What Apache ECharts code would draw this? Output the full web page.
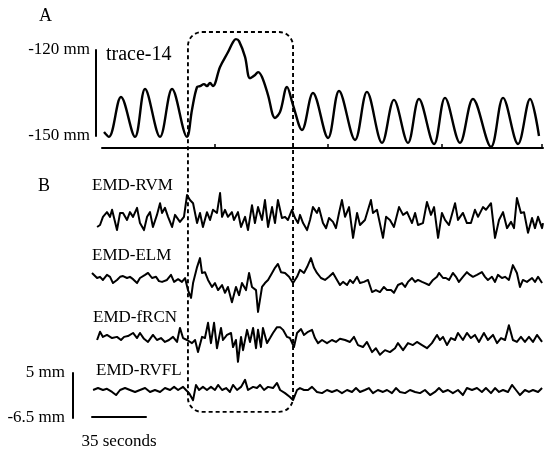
<!DOCTYPE html>
<html><head><meta charset="utf-8">
<script src="https://cdn.jsdelivr.net/npm/echarts@6/dist/echarts.min.js"></script>
<style>html,body{margin:0;padding:0;background:#fff}#c{width:550px;height:454px}</style>
</head><body><div id="c"></div>
<script>
// Panel A: trace-14 (time in seconds, value in mm)
const traceTime = [1.3,4.5,12.3,21.4,27.9,37.6,45.4,55.1,58.3,61.6,63.5,66.1,68.0,70.0,71.9,76.5,81.7,84.9,86.8,88.8,92.7,95.9,99.2,101.1,103.7,107.6,112.1,115.4,119.9,123.8,129.6,136.7,146.5,153.6,164.0,171.7,181.5,189.2,198.3,205.4,215.2,222.3,232.0,240.4,252.1,259.9,269.6,277.4,283.2];
const traceValue = [-148.6,-150.3,-136.4,-150.3,-133.6,-150.3,-133.6,-150.3,-140.9,-132.9,-132.6,-131.9,-132.6,-131.5,-132.6,-125.9,-120.7,-117.2,-116.2,-116.9,-122.4,-129.8,-128.7,-127.7,-129.4,-135.7,-143.7,-141.6,-132.9,-139.2,-147.9,-135.0,-150.7,-134.3,-151.4,-134.6,-152.4,-137.4,-152.4,-137.1,-152.8,-136.7,-152.4,-137.1,-153.8,-136.7,-152.8,-137.1,-150.0];

// Panel B: EMD components (time in seconds, value in mm)
const rvmTime = [-3.2,-1.3,0.6,3.2,5.2,6.5,9.7,11.7,13.6,16.2,18.1,20.1,22.7,24.6,27.2,29.2,31.1,33.0,35.6,37.6,38.9,40.8,42.8,45.4,47.3,50.5,53.1,55.1,57.0,59.0,61.6,63.5,65.4,68.0,70.0,71.9,74.5,76.5,77.8,79.7,81.6,84.2,85.5,88.1,90.1,92.7,94.6,97.2,99.1,101.1,103.7,105.6,107.6,110.2,112.1,114.0,116.6,118.6,120.5,123.1,125.1,127.0,128.3,130.3,132.9,134.8,136.7,139.3,140.6,143.2,145.2,147.1,149.7,151.6,153.6,155.5,157.5,160.1,162.7,165.3,167.2,170.4,174.3,175.6,178.2,182.1,184.1,186.6,189.2,192.5,195.1,197.7,200.9,202.9,204.8,208.0,210.6,213.2,215.2,217.8,220.3,222.3,224.9,228.8,230.7,233.9,236.5,239.1,241.7,243.7,246.9,248.8,252.1,254.7,257.3,259.9,262.5,265.1,267.0,268.9,271.5,273.5,276.1,278.7,280.6,282.6,285.2,285.8];
const rvmValue = [-2.3,-1.8,0.3,1.5,0.3,2.1,-3.1,1.3,1.3,-0.5,1.5,0.3,2.6,-1.3,-3.1,0.3,1.5,-2.3,0.8,3.8,1.3,2.6,0.3,-2.3,0.8,-1.0,0.3,5.9,4.6,3.8,-1.3,1.3,-2.3,1.5,-0.5,2.1,1.3,6.4,0.3,2.1,0.3,1.5,-0.5,1.5,-2.3,0.3,-3.1,3.3,-1.3,2.8,-0.5,4.6,-2.3,2.8,-1.3,4.6,0,0.3,-0.5,2.1,0,-1.3,0.8,-1.3,-3.1,-0.5,2.8,1.3,2.6,-1.3,-2.6,0,-1.0,-2.6,1.3,4.6,0.3,2.8,-5.1,1.3,-1.8,-0.5,4.6,1.3,2.1,-5.1,0.3,-0.5,-2.3,2.8,0.8,1.5,-1.3,1.3,-1.8,-1.3,4.1,0.8,2.8,-5.1,1.3,-0.5,-1.8,3.8,-0.5,1.3,-1.3,-1.3,2.1,0.3,2.8,2.1,3.8,-5.1,-0.5,1.5,-2.6,-1.0,-2.6,5.1,1.3,1.5,-3.8,0,-2.6,0.3,-2.6,-1.3];

const elmTime = [-6.5,-3.2,-1.3,0.6,3.2,5.2,7.1,9.7,11.7,13.6,16.2,18.1,20.1,22.7,24.6,27.9,29.8,32.4,35.0,36.9,38.9,42.1,44.7,46.7,49.3,51.8,53.8,55.7,57.7,59.0,61.6,63.5,64.8,66.7,68.7,71.3,73.2,75.2,77.8,79.7,81.6,84.2,86.8,88.8,90.7,93.3,95.3,97.2,99.8,101.1,103.7,105.6,107.6,110.2,112.1,114.0,116.0,118.6,121.2,123.8,126.4,128.3,130.9,132.9,135.4,137.4,139.3,141.9,144.5,147.1,149.7,152.3,154.2,156.2,158.8,160.7,162.7,165.3,167.2,169.8,172.4,175.0,177.5,180.1,182.7,184.7,187.3,189.2,191.8,194.4,196.4,198.3,200.9,202.9,204.8,207.4,209.3,211.9,214.5,217.1,218.4,221.0,222.9,224.9,227.4,229.4,231.3,233.9,236.5,238.5,240.4,243.0,246.2,248.2,250.1,252.7,254.7,256.6,259.2,261.2,263.7,266.3,268.9,270.9,272.8,275.4,278.7,280.6,282.6,285.2];
const elmValue = [1.3,0,0.3,-0.5,0.8,0.3,-1.3,-0.5,0.3,0.5,0,0.3,-0.3,-1.3,0,0.8,1.3,0,0.3,-0.8,-1.0,-0.5,0.8,-1.0,-0.3,-1.0,0,-3.1,-5.1,-1.3,2.8,5.1,1.3,1.5,-0.5,-2.3,-1.3,-3.1,-1.8,-3.8,-2.3,-6.2,-2.3,-4.4,-1.3,-3.1,1.3,-2.3,-3.1,-8.7,-2.3,-1.3,-0.5,1.3,2.6,3.6,1.5,1.3,0.3,-1.3,0.3,2.1,1.3,2.8,5.1,2.6,1.3,0,-0.5,0.3,1.3,-0.5,-1.8,-1.0,-1.8,-0.5,-1.3,0.3,-1.3,-1.0,-0.5,-3.6,-3.1,-3.6,-2.3,-3.1,-3.1,-3.8,-1.8,-1.3,-2.3,-1.0,0,-1.0,-0.5,-1.0,-1.3,-1.8,-0.5,0.3,1.3,0,0,-0.5,1.3,0.3,-1.0,0.3,1.5,0.8,0.3,0.8,1.5,0.3,-0.5,0.3,-1.0,0.8,0,0.3,-0.5,3.3,1.3,-2.3,-0.5,-1.0,0,-1.0,0.3,-1.3];

const frcnTime = [-3.2,-1.3,0.6,3.2,6.5,9.7,12.3,14.3,16.8,20.1,22.7,24.6,27.2,29.8,33.0,35.6,38.2,40.8,43.4,46.0,48.6,50.5,52.5,55.1,58.3,60.3,62.2,64.8,66.7,68.7,70.6,72.6,74.5,77.1,78.4,81.0,83.6,84.9,86.8,88.1,90.1,91.4,94.0,95.9,97.9,99.8,101.1,103.0,104.3,106.9,108.9,110.8,113.4,115.4,117.3,119.9,121.8,124.4,126.4,129.0,130.9,133.5,136.1,138.0,140.0,142.6,145.8,149.0,151.6,154.2,157.5,160.7,163.3,165.9,169.1,171.7,175.0,177.5,180.1,183.4,186.6,189.9,191.8,195.1,198.3,201.5,204.1,207.4,210.6,213.8,217.1,219.0,221.0,223.6,226.2,228.8,230.7,233.9,236.5,239.1,241.7,244.3,247.5,250.1,253.4,256.0,258.6,261.2,263.7,266.3,268.9,271.5,274.1,276.7,279.3,281.9,285.2];
const frcnValue = [0,2.1,0.8,1.3,0.5,0.8,0,0.8,1.0,1.8,0.5,1.8,0.3,-0.5,1.3,0,0.5,-0.5,0,0.8,-0.5,3.1,0.5,0,-0.8,0,-3.1,0.8,0.5,4.4,-0.8,4.4,-2.1,3.1,0,1.3,1.8,-1.8,0,-5.6,0.8,-2.6,2.6,-0.5,3.1,-2.1,2.6,-1.8,3.1,-0.8,0.5,1.8,3.3,3.3,2.6,0.8,0.5,-1.8,1.8,2.8,1.3,2.1,2.6,0.5,-0.8,0,-0.8,0,-0.5,0.3,0,-0.5,0.8,-1.3,-1.8,-0.5,-3.1,-2.1,-3.8,-2.6,-3.1,-2.1,-0.8,-2.6,-0.8,-1.3,-0.5,-1.3,-2.1,-0.8,1.3,0,0.8,-1.3,0.5,0,1.8,0,1.8,0.5,1.3,-0.5,1.8,0,1.3,-0.8,0.5,0,3.8,0,-0.5,0.8,-0.5,0.8,-0.5,1.3,-0.5];

const rvflTime = [-5.8,-2.6,0.6,3.2,6.5,9.1,11.7,14.9,18.1,21.4,24.6,27.9,31.1,34.3,37.6,40.8,44.1,46.7,49.3,52.5,54.4,56.4,59.0,60.9,62.9,65.4,68.0,70.6,73.2,75.2,77.8,80.4,82.9,84.9,87.5,90.1,92.7,94.6,97.9,100.4,102.4,105.0,107.6,110.8,113.4,115.4,118.6,121.8,123.8,126.4,128.3,130.9,133.5,136.1,139.3,142.6,145.8,149.0,152.3,155.5,158.8,162.0,164.6,167.2,170.4,173.0,175.6,178.8,182.1,184.7,187.9,190.5,193.1,196.4,199.6,202.9,206.1,209.3,212.6,215.8,218.4,221.0,224.2,227.4,230.7,233.9,236.5,239.8,243.0,246.2,248.8,252.1,254.7,257.3,259.9,263.1,265.7,268.3,270.9,274.1,276.7,279.3,282.6,285.2];
const rvflValue = [0,0.5,0,0.3,-0.5,-1.3,0,0.5,0,-0.5,0,0.5,-0.5,0,-0.5,0.5,0,0.8,0,0.8,0,-0.8,-2.6,1.3,0,0.8,0,0.8,0,1.3,0,0.5,-0.5,1.3,0,0.8,2.6,0,0.8,0.5,1.3,0,0.8,0.5,1.8,0,-0.8,-1.8,-2.6,0,0.5,0,0,0.8,-0.5,-0.8,0,-0.5,0,-0.8,0,-0.5,0.5,-0.5,0,0.5,-0.8,0,-0.5,0,-0.8,0.5,-0.5,-0.8,0,-0.5,-0.8,0,-1.3,-0.5,0.5,-0.5,0,-0.8,0,-1.3,0.5,0,0.5,-0.5,0.5,-0.8,0.5,-0.5,0,-0.5,1.3,0,-1.3,0,-0.5,0,-0.5,0.5];

const emdLabels = ['EMD-RVM', 'EMD-ELM', 'EMD-fRCN', 'EMD-RVFL'];
const traceTicks = [73.2, 146.5, 220.3, 285.2];
const traceScale = [-150, -120];     // mm
const emdScale = [-6.5, 5];          // mm
const timeScale = 35;                // seconds
const boxStart = 55.7, boxEnd = 123.8;   // seconds
const boxTop = -113.7, boxBottom = -5.6; // mm (trace A axis / EMD-RVFL axis)

const FONT = '"Liberation Serif","Times New Roman",serif';
const pairs = (t, v) => t.map((x, i) => [x, v[i]]);

const chart = echarts.init(document.getElementById('c'), null, {renderer: 'canvas'});

const emdData = [pairs(rvmTime, rvmValue), pairs(elmTime, elmValue), pairs(frcnTime, frcnValue), pairs(rvflTime, rvflValue)];
const emdTops = [178, 238, 300, 350];

const grids = [{left: 102, top: 30, width: 441, height: 118, outerBoundsMode: 'none'}];
emdTops.forEach(t => grids.push({left: 92, top: t, width: 453, height: 80, outerBoundsMode: 'none'}));
grids.push({left: 96, top: 50, width: 10, height: 86, outerBoundsMode: 'none'});
grids.push({left: 73, top: 373, width: 10, height: 45, outerBoundsMode: 'none'});
grids.push({left: 92, top: 400, width: 54, height: 17, outerBoundsMode: 'none'});

const hiddenX = (i, min, max) => ({type: 'value', gridIndex: i, min, max, show: false});
const hiddenY = (i, min, max) => ({type: 'value', gridIndex: i, min, max, show: false});

const xAxes = [{
  type: 'value', gridIndex: 0, min: 0, max: 285.8, position: 'bottom',
  axisLine: {show: true, lineStyle: {color: '#000', width: 2}},
  axisTick: {show: true, inside: true, length: 4, customValues: traceTicks, lineStyle: {color: '#000', width: 1.5}},
  axisLabel: {show: false}, splitLine: {show: false}
}];
for (let i = 1; i <= 4; i++) xAxes.push(hiddenX(i, -6.5, 287.1));
xAxes.push(hiddenX(5, 0, 1));
xAxes.push(hiddenX(6, 0, 1));
xAxes.push({
  type: 'value', gridIndex: 7, min: 0, max: timeScale, position: 'bottom',
  axisLine: {show: true, lineStyle: {color: '#000', width: 2}},
  axisTick: {show: false}, axisLabel: {show: false}, splitLine: {show: false},
  name: timeScale + ' seconds', nameLocation: 'middle', nameGap: 16,
  nameTextStyle: {color: '#000', fontSize: 17, fontFamily: FONT}
});

const scaleY = (i, vals, margin) => ({
  type: 'value', gridIndex: i, min: vals[0], max: vals[1], position: 'left',
  axisLine: {show: true, lineStyle: {color: '#000', width: 2}},
  axisTick: {show: false}, splitLine: {show: false},
  axisLabel: {show: true, customValues: vals, margin, color: '#000', fontSize: 17, fontFamily: FONT,
    formatter: v => v + ' mm'}
});
const yAxes = [hiddenY(0, -154.2, -113.0)];
for (let i = 1; i <= 4; i++) yAxes.push(hiddenY(i, -10.26, 10.26));
yAxes.push(scaleY(5, traceScale, 6));
yAxes.push(scaleY(6, emdScale, 8));
yAxes.push(hiddenY(7, 0, 1));

const series = [{
  type: 'line', xAxisIndex: 0, yAxisIndex: 0, data: pairs(traceTime, traceValue),
  showSymbol: false, smooth: 0.35, clip: false,
  lineStyle: {color: '#000', width: 2.4, join: 'round'}
}];
emdData.forEach((d, k) => series.push({
  type: 'line', xAxisIndex: k + 1, yAxisIndex: k + 1, data: d,
  showSymbol: false, smooth: false, clip: false,
  lineStyle: {color: '#000', width: 2, join: 'round'}
}));

const txt = (x, y, text, size) => ({type: 'text', x, y, z: 50,
  style: {text, fill: '#000', font: (size || 17) + 'px ' + FONT, textAlign: 'left', textVerticalAlign: 'middle', verticalAlign: 'middle'}});
const labelPos = [[92, 186], [92, 256], [93, 318], [96, 371]];
const graphics = [txt(39, 16, 'A', 18), txt(38, 186, 'B', 18), txt(106, 55, 'trace-14', 20)];
emdLabels.forEach((s, i) => graphics.push(txt(labelPos[i][0], labelPos[i][1], s)));

chart.setOption({
  animation: false, backgroundColor: '#fff',
  grid: grids, xAxis: xAxes, yAxis: yAxes, series, graphic: graphics
});

const x1 = chart.convertToPixel({xAxisIndex: 0}, boxStart);
const x2 = chart.convertToPixel({xAxisIndex: 0}, boxEnd);
const y1 = chart.convertToPixel({yAxisIndex: 0}, boxTop);
const y2 = chart.convertToPixel({yAxisIndex: 4}, boxBottom);
graphics.push({type: 'rect', z: 100, shape: {x: x1, y: y1, width: x2 - x1, height: y2 - y1, r: 14},
  style: {fill: null, stroke: '#000', lineWidth: 1.9, lineDash: [4, 3]}});
chart.setOption({graphic: graphics});
</script></body></html>
